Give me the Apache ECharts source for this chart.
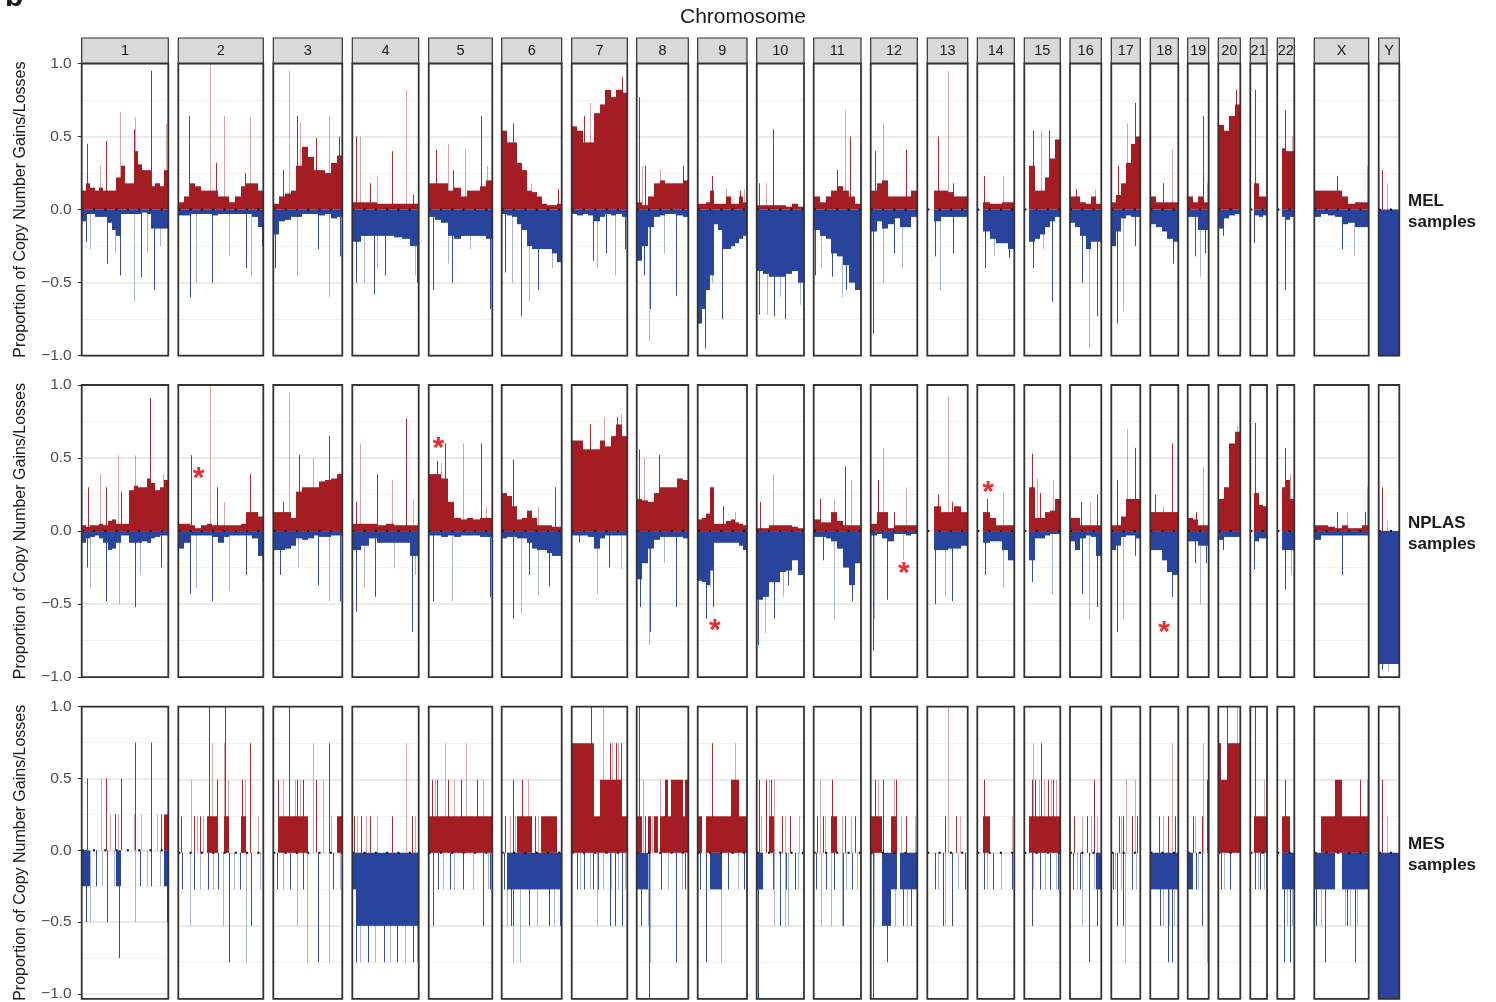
<!DOCTYPE html>
<html><head><meta charset="utf-8">
<script src="https://cdn.jsdelivr.net/npm/echarts@6/dist/echarts.min.js"></script>
<style>html,body{margin:0;padding:0;background:#fff}#c{width:1496px;height:1002px}</style>
</head><body><div id="c"></div>
<script>
// ---------------- DATA ----------------
const CHROMOSOMES = ['1','2','3','4','5','6','7','8','9','10','11','12','13','14','15','16','17','18','19','20','21','22','X','Y'];
const ROW_NAMES = ['MEL', 'NPLAS', 'MES'];
const TITLE = 'Chromosome';
const Y_TITLE = 'Proportion of Copy Number Gains/Losses';

// proportion of samples with gain, per equal-length bin along each chromosome
const MEL_GAIN = [
 [0.13,0.18,0.15,0.13,0.15,0.13,0.13,0.13,0.22,0.30,0.18,0.18,0.40,0.31,0.27,0.27,0.16,0.18,0.16,0.27],
 [0.05,0.09,0.18,0.16,0.13,0.13,0.13,0.09,0.09,0.05,0.09,0.16,0.18,0.18,0.13],
 [0.04,0.09,0.11,0.13,0.30,0.43,0.36,0.27,0.27,0.25,0.32,0.37],
 [0.05,0.05,0.05,0.04,0.04,0.04,0.04,0.04],
 [0.18,0.18,0.18,0.13,0.15,0.09,0.13,0.13,0.16,0.20],
 [0.54,0.46,0.46,0.32,0.27,0.13,0.12,0.09,0.04,0.03,0.03,0.04],
 [0.57,0.54,0.46,0.46,0.66,0.72,0.82,0.77,0.82,0.80],
 [0.05,0.03,0.09,0.18,0.20,0.18,0.18,0.18,0.20],
 [0.04,0.04,0.05,0.13,0.04,0.04,0.04,0.09,0.04,0.04,0.09,0.05],
 [0.03,0.03,0.03,0.03,0.03,0.02,0.04,0.02],
 [0.09,0.05,0.09,0.13,0.16,0.13,0.09,0.04],
 [0.13,0.18,0.20,0.09,0.09,0.09,0.09,0.13],
 [0,0.13,0.13,0.12,0.09,0.09],
 [0,0.05,0.04,0.04,0.05,0.05],
 [0,0.30,0.13,0.13,0.22,0.35,0.48],
 [0.09,0.09,0.05,0.04,0.09,0.04],
 [0.05,0.10,0.18,0.32,0.45,0.50],
 [0.09,0.05,0.05,0.05,0.05],
 [0.09,0.05,0.09,0.05],
 [0.58,0.54,0.64,0.72],
 [0,0.18,0.09,0.09],
 [0,0.42,0.40,0.40],
 [0.13,0.13,0.13,0.13,0.09,0.04,0.05,0.05],
 [0]
];
// proportion of samples with loss (drawn downward)
const MEL_LOSS = [
 [0.08,0.03,0.03,0.05,0.05,0.05,0.09,0.14,0.18,0.03,0.03,0.03,0.03,0.03,0.02,0.03,0.13,0.13,0.13,0.13],
 [0.04,0.04,0.03,0.03,0.03,0.03,0.04,0.03,0.03,0.03,0.03,0.03,0.03,0.05,0.12],
 [0.17,0.08,0.07,0.05,0.05,0.03,0.03,0.03,0.04,0.03,0.06,0.05],
 [0.22,0.18,0.18,0.18,0.18,0.19,0.20,0.25],
 [0.05,0.07,0.09,0.18,0.20,0.18,0.18,0.18,0.18,0.20],
 [0.03,0.04,0.05,0.10,0.14,0.25,0.27,0.27,0.27,0.27,0.30,0.36],
 [0.03,0.04,0.03,0.04,0.08,0.05,0.03,0.04,0.03,0.05],
 [0.35,0.25,0.12,0.05,0.04,0.03,0.03,0.04,0.05],
 [0.78,0.68,0.55,0.45,0.10,0.14,0.27,0.27,0.25,0.23,0.20,0.18],
 [0.42,0.44,0.46,0.46,0.46,0.44,0.42,0.50],
 [0.14,0.18,0.20,0.30,0.32,0.38,0.50,0.55],
 [0.15,0.08,0.13,0.10,0.06,0.12,0.12,0.05],
 [0,0.08,0.05,0.05,0.05,0.05],
 [0,0.15,0.20,0.23,0.23,0.27],
 [0,0.22,0.20,0.17,0.12,0.08,0.05],
 [0.09,0.12,0.18,0.27,0.22,0.22],
 [0.25,0.15,0.06,0.04,0.05,0.05],
 [0.10,0.12,0.15,0.20,0.22],
 [0.05,0.05,0.14,0.14],
 [0.13,0.06,0.04,0.03],
 [0,0.04,0.05,0.04],
 [0,0.05,0.07,0.05],
 [0.05,0.03,0.04,0.05,0.10,0.09,0.12,0.12],
 [1.0]
];
// narrow peaks: [relative position along chromosome, proportion]
const MEL_GAIN_PEAKS = [
 [[0.065,0.45],[0.21,0.30],[0.28,0.47],[0.44,0.67],[0.60,0.55],[0.62,0.63],[0.80,0.95],[0.97,0.59]],
 [[0.13,0.64],[0.37,1.0],[0.44,0.32],[0.54,0.64],[0.79,0.25],[0.84,0.63]],
 [[0.14,0.27],[0.23,0.95],[0.35,0.64],[0.39,0.60],[0.62,0.49],[0.80,0.64],[0.95,0.50]],
 [[0.05,0.50],[0.11,0.50],[0.26,0.18],[0.37,0.23],[0.60,0.40],[0.81,0.82],[0.92,0.10]],
 [[0.12,0.41],[0.31,0.45],[0.38,0.27],[0.57,0.41],[0.83,0.64],[0.91,0.30]],
 [[0.19,0.59],[0.48,0.18],[0.94,0.14]],
 [[0.23,0.64],[0.33,0.73],[0.90,0.91]],
 [[0.05,0.77],[0.10,0.30],[0.16,0.30],[0.45,0.27],[0.90,0.30]],
 [[0.30,0.23],[0.57,0.14],[0.86,0.13],[0.93,0.14]],
 [[0.04,0.18],[0.20,0.18],[0.35,0.55]],
 [[0.49,0.27],[0.67,0.68],[0.77,0.50]],
 [[0.09,0.40],[0.26,0.59],[0.75,0.41]],
 [[0.27,0.50],[0.50,0.95],[0.64,0.18]],
 [[0.18,0.23],[0.70,0.23]],
 [[0.23,0.54],[0.45,0.54],[0.69,0.54]],
 [[0.20,0.14],[0.80,0.14]],
 [[0.24,0.30],[0.53,0.59],[0.83,0.73]],
 [[0.46,0.18],[0.79,0.41]],
 [[0.75,0.64],[0.90,0.18]],
 [[0.80,0.82]],
 [[0.30,0.82]],
 [[0.45,0.68],[0.85,0.50]],
 [[0.41,0.23],[0.96,0.30]],
 [[0.15,0.27],[0.39,0.18]]
];
const MEL_LOSS_PEAKS = [
 [[0.05,0.22],[0.10,0.27],[0.29,0.37],[0.38,0.30],[0.44,0.45],[0.60,0.63],[0.68,0.46],[0.75,0.30],[0.83,0.55],[0.90,0.25]],
 [[0.14,0.60],[0.21,0.50],[0.40,0.50],[0.60,0.32],[0.80,0.40],[0.86,0.46],[0.98,0.25]],
 [[0.03,0.40],[0.35,0.46],[0.65,0.27],[0.81,0.60],[0.97,0.32]],
 [[0.05,0.50],[0.18,0.50],[0.33,0.58],[0.37,0.40],[0.49,0.45],[0.95,0.45],[0.98,0.50]],
 [[0.07,0.55],[0.31,0.37],[0.37,0.50],[0.65,0.27],[0.96,0.68]],
 [[0.06,0.43],[0.17,0.50],[0.32,0.73],[0.46,0.63],[0.61,0.55],[0.83,0.40]],
 [[0.39,0.35],[0.45,0.40],[0.62,0.30],[0.78,0.45],[0.96,0.27]],
 [[0.14,0.45],[0.23,0.90],[0.26,0.68],[0.52,0.30],[0.77,0.59]],
 [[0.15,0.95],[0.30,0.50],[0.49,0.75]],
 [[0.05,0.72],[0.21,0.72],[0.37,0.73],[0.49,0.60],[0.60,0.75],[0.92,0.65]],
 [[0.03,0.45],[0.15,0.40],[0.38,0.46],[0.59,0.60],[0.69,0.55]],
 [[0.06,0.85],[0.26,0.50],[0.49,0.30],[0.67,0.40]],
 [[0.19,0.32],[0.31,0.55],[0.64,0.30]],
 [[0.20,0.40],[0.45,0.32],[0.85,0.33]],
 [[0.23,0.40],[0.53,0.27],[0.76,0.63]],
 [[0.37,0.50],[0.61,0.95],[0.87,0.73]],
 [[0.20,0.78],[0.41,0.70],[0.82,0.25]],
 [[0.80,0.37]],
 [[0.35,0.32],[0.59,0.46],[0.82,0.30]],
 [[0.23,0.18]],
 [[0.25,0.23]],
 [[0.45,0.55]],
 [[0.50,0.27],[0.73,0.32]],
 []
];

const NPLAS_GAIN = [
 [0.04,0.03,0.04,0.04,0.05,0.04,0.07,0.08,0.05,0.05,0.05,0.28,0.31,0.30,0.30,0.36,0.33,0.28,0.30,0.35],
 [0.05,0.05,0.04,0.02,0.04,0.05,0.04,0.04,0.04,0.04,0.04,0.05,0.13,0.13,0.10],
 [0.13,0.13,0.13,0.09,0.27,0.30,0.30,0.30,0.34,0.35,0.36,0.39],
 [0.05,0.05,0.05,0.04,0.05,0.04,0.04,0.04],
 [0.39,0.39,0.36,0.20,0.09,0.08,0.09,0.08,0.09,0.09],
 [0.26,0.24,0.17,0.08,0.09,0.14,0.09,0.04,0.04,0.04,0.03,0.03],
 [0.62,0.62,0.56,0.56,0.56,0.62,0.58,0.65,0.73,0.65],
 [0.22,0.21,0.20,0.26,0.30,0.30,0.30,0.36,0.35],
 [0.08,0.09,0.12,0.30,0.05,0.05,0.05,0.07,0.08,0.06,0.05,0.04],
 [0.02,0.02,0.04,0.04,0.04,0.04,0.03,0.02],
 [0.08,0.06,0.06,0.13,0.07,0.04,0.04,0.04],
 [0.05,0.13,0.13,0.02,0.04,0.04,0.04,0.04],
 [0,0.17,0.13,0.13,0.17,0.13],
 [0,0.13,0.09,0.04,0.04,0.04],
 [0,0.30,0.09,0.09,0.13,0.14,0.22],
 [0.09,0.09,0.04,0.04,0.04,0.04],
 [0.04,0.04,0.10,0.22,0.22,0.22],
 [0.13,0.13,0.13,0.13,0.13],
 [0.09,0.08,0.04,0.04],
 [0.22,0.30,0.60,0.68],
 [0,0.26,0.18,0.17],
 [0,0.30,0.35,0.22],
 [0.04,0.04,0.03,0.02,0.04,0.02,0.02,0.04],
 [0]
];
const NPLAS_LOSS = [
 [0.08,0.05,0.04,0.03,0.05,0.08,0.13,0.12,0.08,0.03,0.03,0.08,0.08,0.08,0.07,0.08,0.05,0.04,0.03,0.03],
 [0.12,0.08,0.03,0.03,0.03,0.03,0.04,0.08,0.04,0.03,0.03,0.03,0.03,0.05,0.17],
 [0.13,0.13,0.12,0.10,0.05,0.06,0.05,0.03,0.04,0.04,0.03,0.03],
 [0.13,0.10,0.05,0.08,0.08,0.08,0.08,0.17],
 [0.03,0.03,0.04,0.03,0.04,0.03,0.03,0.03,0.04,0.04],
 [0.05,0.04,0.04,0.05,0.05,0.08,0.12,0.13,0.13,0.15,0.17,0.17],
 [0.03,0.03,0.03,0.04,0.12,0.05,0.03,0.03,0.03,0.03],
 [0.33,0.22,0.12,0.06,0.04,0.04,0.04,0.04,0.05],
 [0.34,0.35,0.37,0.27,0.08,0.08,0.08,0.08,0.08,0.08,0.10,0.13],
 [0.47,0.45,0.35,0.35,0.28,0.27,0.20,0.30],
 [0.04,0.04,0.05,0.07,0.12,0.25,0.37,0.22],
 [0.03,0.02,0.05,0.07,0.02,0.02,0.03,0.02],
 [0,0.13,0.13,0.12,0.12,0.10],
 [0,0.08,0.07,0.07,0.13,0.20],
 [0,0.20,0.05,0.05,0.03,0.02,0.02],
 [0.07,0.13,0.05,0.03,0.04,0.17],
 [0.13,0.10,0.04,0.03,0.03,0.05],
 [0.13,0.13,0.20,0.28,0.30],
 [0.07,0.07,0.10,0.10],
 [0.06,0.04,0.04,0.04],
 [0,0.07,0.05,0.05],
 [0,0.13,0.13,0.13],
 [0.06,0.03,0.03,0.03,0.03,0.03,0.03,0.03],
 [0.91]
];
const NPLAS_GAIN_PEAKS = [
 [[0.07,0.30],[0.21,0.39],[0.28,0.30],[0.42,0.52],[0.45,0.27],[0.62,0.52],[0.79,0.91],[0.94,0.39]],
 [[0.15,0.52],[0.37,1.0],[0.45,0.30],[0.54,0.20],[0.84,0.39]],
 [[0.14,0.20],[0.23,0.95],[0.37,0.52],[0.58,0.50],[0.81,0.65],[0.95,0.40]],
 [[0.05,0.20],[0.11,0.60],[0.37,0.39],[0.60,0.35],[0.81,0.77],[0.92,0.22]],
 [[0.13,0.48],[0.20,0.47],[0.26,0.60],[0.54,0.60],[0.83,0.60],[0.90,0.17]],
 [[0.19,0.49],[0.61,0.17],[0.89,0.30]],
 [[0.33,0.73],[0.58,0.78],[0.82,0.78],[0.89,0.80]],
 [[0.05,0.56],[0.15,0.50],[0.44,0.52]],
 [[0.51,0.17],[0.76,0.13]],
 [[0.07,0.20],[0.35,0.39]],
 [[0.14,0.22],[0.42,0.22],[0.67,0.44],[0.79,0.35]],
 [[0.16,0.35],[0.26,0.57],[0.49,0.13],[0.75,0.30]],
 [[0.27,0.25],[0.50,0.92],[0.60,0.20]],
 [[0.25,0.22],[0.70,0.26]],
 [[0.20,0.53],[0.34,0.36],[0.43,0.26],[0.80,0.35]],
 [[0.35,0.20],[0.64,0.20],[0.87,0.25]],
 [[0.20,0.35],[0.53,0.70],[0.83,0.57]],
 [[0.17,0.25],[0.46,0.17],[0.79,0.60]],
 [[0.40,0.13],[0.75,0.44]],
 [[0.30,0.30],[0.83,0.72]],
 [[0.30,0.74]],
 [[0.47,0.57],[0.75,0.39]],
 [[0.41,0.13],[0.60,0.13],[0.93,0.13],[0.96,0.30]],
 [[0.15,0.30],[0.39,0.07]]
];
const NPLAS_LOSS_PEAKS = [
 [[0.06,0.25],[0.10,0.39],[0.28,0.48],[0.43,0.50],[0.61,0.52],[0.67,0.30],[0.92,0.25]],
 [[0.14,0.43],[0.21,0.39],[0.40,0.48],[0.60,0.41],[0.80,0.30],[0.98,0.35]],
 [[0.09,0.30],[0.36,0.25],[0.65,0.37],[0.81,0.48],[0.97,0.48]],
 [[0.05,0.55],[0.18,0.39],[0.34,0.45],[0.63,0.25],[0.90,0.69],[0.95,0.30]],
 [[0.07,0.48],[0.37,0.48],[0.96,0.45]],
 [[0.18,0.60],[0.32,0.57],[0.46,0.30],[0.61,0.44],[0.78,0.38]],
 [[0.14,0.08],[0.45,0.43],[0.67,0.25],[0.89,0.26]],
 [[0.06,0.52],[0.23,0.78],[0.26,0.69],[0.52,0.22],[0.76,0.52]],
 [[0.17,0.60],[0.25,0.38],[0.32,0.52]],
 [[0.03,0.78],[0.18,0.70],[0.37,0.60],[0.56,0.45],[0.67,0.37]],
 [[0.20,0.20],[0.42,0.60],[0.80,0.48]],
 [[0.06,0.82],[0.07,0.60],[0.34,0.47],[0.70,0.20]],
 [[0.19,0.50],[0.44,0.45],[0.62,0.48]],
 [[0.20,0.30],[0.70,0.39]],
 [[0.22,0.35],[0.76,0.43]],
 [[0.37,0.43],[0.61,0.60],[0.87,0.52]],
 [[0.20,0.69],[0.41,0.60],[0.82,0.17]],
 [[0.79,0.45]],
 [[0.35,0.22],[0.59,0.50],[0.87,0.22]],
 [[0.23,0.13]],
 [[0.25,0.26]],
 [[0.45,0.40],[0.78,0.30]],
 [[0.50,0.30]],
 [[0.15,0.95],[0.44,0.96]]
];
// significance asterisks in NPLAS row: [chromosome index, relative position, value]
const NPLAS_STARS = [[1,0.24,0.41],[4,0.15,0.62],[8,0.35,-0.63],[11,0.71,-0.24],[13,0.29,0.32],[17,0.49,-0.64]];

const MES_GAIN = [
 [0,0,0,0,0,0,0,0,0,0,0,0,0,0,0,0,0,0,0,0.25],
 [0,0,0,0,0,0.25,0.25,0,0.25,0,0,0.25,0,0,0],
 [0,0.25,0.25,0.25,0.25,0.25,0,0,0,0,0,0.25],
 [0,0,0,0,0,0,0,0],
 [0.25,0.25,0.25,0.25,0.25,0.25,0.25,0.25,0.25,0.25],
 [0,0,0,0.25,0.25,0.25,0,0,0.25,0.25,0.25,0],
 [0.75,0.75,0.75,0.75,0.25,0.5,0.5,0.5,0.5,0.25],
 [0.25,0.25,0,0,0.25,0,0.25,0,0.25,0.25,0.5,0.25,0.5,0.5,0.5,0.5,0.25,0.5],
 [0.25,0,0.25,0.25,0.25,0.25,0.25,0.25,0.5,0.5,0.25,0.25],
 [0,0,0.25,0,0,0,0,0],
 [0,0,0,0.25,0,0,0,0],
 [0.25,0.25,0.25,0.25,0,0,0,0.25,0.25,0,0,0,0,0,0,0],
 [0,0,0,0,0,0],
 [0,0.25,0,0,0,0],
 [0,0.25,0.25,0.25,0.25,0.25,0.25],
 [0,0,0,0,0,0],
 [0,0,0,0,0,0],
 [0,0,0,0,0],
 [0,0,0,0],
 [0.75,0.5,0.5,0.75,0.75,0.75,0.75,0.75],
 [0,0.25,0.25,0.25],
 [0,0.25,0.25,0],
 [0,0.25,0.25,0.5,0.25,0.25,0.25,0.25],
 [0]
];
const MES_LOSS = [
 [0.25,0.25,0,0,0,0,0,0,0.25,0,0,0,0,0,0,0,0,0,0,0.25],
 [0,0,0,0,0,0,0,0,0,0,0,0,0,0,0],
 [0,0,0,0,0,0,0,0,0,0,0,0],
 [0.25,0.5,0.5,0.5,0.5,0.5,0.5,0.5,0.5,0.5,0.5,0.5,0.5,0.5,0.5,0.5],
 [0,0,0,0,0,0,0,0,0,0],
 [0,0.25,0.25,0.25,0.25,0.25,0.25,0.25,0.25,0.25,0.25,0.25],
 [0,0,0,0,0,0,0,0,0,0],
 [0.25,0.25,0.25,0.25,0,0,0,0,0,0,0,0,0,0,0,0,0,0],
 [0,0,0,0.25,0.25,0.25,0,0,0,0,0,0],
 [0.25,0,0,0,0,0,0,0],
 [0,0,0,0,0,0,0,0],
 [0,0,0,0,0.5,0.5,0.5,0.25,0.25,0,0.25,0.25,0.25,0.25,0.25,0.25],
 [0,0,0,0,0,0],
 [0,0,0,0,0,0],
 [0,0,0,0,0,0,0],
 [0,0,0,0,0,0.25],
 [0,0,0,0,0,0],
 [0.25,0.25,0.25,0.25,0.25],
 [0.25,0,0,0],
 [0,0,0,0],
 [0,0,0,0],
 [0,0.25,0.25,0.25],
 [0.25,0.25,0.25,0,0.25,0.25,0.25,0.25],
 [1.0]
];
const MES_GAIN_PEAKS = [
 [[0.065,0.5],[0.22,0.5],[0.28,0.5],[0.33,0.25],[0.38,0.25],[0.42,0.25],[0.45,0.5],[0.60,0.25],[0.62,0.75],[0.69,0.25],[0.80,0.75],[0.87,0.25],[0.92,0.25]],
 [[0.03,0.25],[0.15,0.5],[0.18,0.25],[0.22,0.25],[0.25,0.25],[0.29,0.25],[0.36,1.0],[0.40,0.75],[0.46,0.5],[0.54,0.75],[0.545,1.0],[0.58,0.5],[0.75,0.5],[0.78,0.5],[0.84,0.75],[0.94,0.25]],
 [[0.07,0.5],[0.14,0.5],[0.23,1.0],[0.32,0.5],[0.35,0.5],[0.39,0.5],[0.43,0.5],[0.58,0.75],[0.62,0.5],[0.72,0.5],[0.81,0.75],[0.84,0.25]],
 [[0.03,0.25],[0.07,0.25],[0.13,0.25],[0.20,0.25],[0.27,0.25],[0.37,0.25],[0.60,0.25],[0.81,0.75],[0.90,0.25],[0.95,0.25]],
 [[0.05,0.5],[0.10,0.5],[0.13,0.5],[0.25,0.75],[0.31,0.5],[0.40,0.5],[0.51,0.5],[0.58,0.75],[0.76,0.5],[0.86,0.5]],
 [[0.06,0.25],[0.14,0.25],[0.19,0.5],[0.22,0.25],[0.33,0.5],[0.43,0.5],[0.55,0.25],[0.60,0.25],[0.65,0.25]],
 [[0.34,1.0],[0.57,1.0],[0.68,0.75],[0.73,0.75],[0.79,0.75],[0.84,0.75],[0.89,0.75]],
 [[0.05,1.0],[0.12,0.5],[0.16,0.25],[0.30,0.25],[0.39,0.25],[0.45,0.5],[0.52,0.25]],
 [[0.30,0.75],[0.76,0.75]],
 [[0.04,0.5],[0.10,0.25],[0.20,0.5],[0.25,0.5],[0.31,0.5],[0.37,0.5],[0.54,0.25],[0.60,0.25],[0.70,0.25],[0.90,0.25]],
 [[0.06,0.25],[0.14,0.5],[0.19,0.25],[0.23,0.25],[0.38,0.5],[0.59,0.25],[0.67,0.25],[0.79,0.25],[0.87,0.25]],
 [[0.09,0.5],[0.15,0.5],[0.26,0.5],[0.49,0.5],[0.54,0.5],[0.64,0.25],[0.75,0.25],[0.94,0.25]],
 [[0.45,0.25],[0.50,1.0],[0.71,0.25],[0.81,0.25]],
 [[0.17,0.5],[0.94,0.25]],
 [[0.20,0.5],[0.23,0.75],[0.31,0.5],[0.42,0.5],[0.45,0.75],[0.56,0.5],[0.67,0.5],[0.73,0.5],[0.81,0.5],[0.88,0.5]],
 [[0.14,0.25],[0.38,0.25],[0.53,0.25],[0.66,0.25],[0.78,0.5],[0.85,0.25]],
 [[0.28,0.25],[0.32,0.25],[0.41,0.25],[0.51,0.5],[0.70,0.25],[0.83,0.5],[0.87,0.25]],
 [[0.32,0.25],[0.46,0.25],[0.64,0.25],[0.79,0.75],[0.88,0.25]],
 [[0.24,0.25],[0.37,0.25],[0.67,0.25],[0.75,0.75],[0.90,0.5]],
 [[0.40,1.0],[0.83,1.0]],
 [[0.30,1.0],[0.82,0.5]],
 [[0.47,0.5]],
 [[0.84,0.5],[0.96,0.5]],
 [[0.15,0.5],[0.39,0.25]]
];
const MES_LOSS_PEAKS = [
 [[0.05,0.5],[0.10,0.5],[0.17,0.25],[0.23,0.25],[0.29,0.5],[0.37,0.25],[0.43,0.75],[0.61,0.5],[0.67,0.25],[0.75,0.25],[0.80,0.25],[0.90,0.25],[0.98,0.5]],
 [[0.04,0.25],[0.14,0.5],[0.18,0.25],[0.25,0.25],[0.35,0.25],[0.41,0.25],[0.47,0.25],[0.53,0.5],[0.60,0.75],[0.65,0.25],[0.73,0.25],[0.80,0.75],[0.86,0.5],[0.96,0.25]],
 [[0.05,0.25],[0.14,0.25],[0.24,0.25],[0.35,0.5],[0.43,0.25],[0.49,0.75],[0.65,0.75],[0.81,0.75],[0.87,0.25],[0.97,0.25]],
 [[0.05,0.75],[0.12,0.75],[0.23,0.75],[0.34,0.75],[0.47,0.75],[0.57,0.75],[0.67,0.75],[0.79,0.75],[0.92,0.75],[0.97,0.75]],
 [[0.06,0.5],[0.07,0.25],[0.14,0.25],[0.23,0.25],[0.33,0.25],[0.39,0.25],[0.54,0.25],[0.70,0.25],[0.85,0.5],[0.93,0.25],[0.96,0.25]],
 [[0.03,0.25],[0.09,0.5],[0.15,0.5],[0.18,0.75],[0.19,0.5],[0.31,0.75],[0.46,0.5],[0.58,0.5],[0.78,0.5],[0.87,0.5],[0.97,0.5]],
 [[0.09,0.25],[0.15,0.25],[0.22,0.25],[0.33,0.25],[0.39,0.25],[0.45,0.5],[0.48,0.25],[0.57,0.25],[0.68,0.5],[0.70,0.25],[0.78,0.5],[0.84,0.25],[0.90,0.5],[0.96,0.25]],
 [[0.08,0.5],[0.21,0.5],[0.23,1.0],[0.26,0.75],[0.48,0.25],[0.61,0.25],[0.77,0.75],[0.87,0.25],[0.94,0.25]],
 [[0.05,0.25],[0.16,0.5],[0.17,0.75],[0.48,0.75],[0.62,0.25],[0.82,0.25],[0.94,0.25]],
 [[0.03,1.0],[0.10,0.25],[0.34,0.25],[0.37,0.5],[0.49,0.5],[0.60,0.5],[0.62,0.25],[0.67,0.5],[0.81,0.25],[0.88,0.25]],
 [[0.05,0.25],[0.15,0.5],[0.27,0.25],[0.36,0.5],[0.42,0.25],[0.59,0.5],[0.63,0.5],[0.68,0.25],[0.82,0.25],[0.91,0.25]],
 [[0.04,1.0],[0.07,0.5],[0.36,0.75],[0.52,0.5],[0.70,0.5],[0.77,0.5],[0.86,0.5]],
 [[0.19,0.25],[0.27,0.25],[0.40,0.5],[0.45,0.5],[0.60,0.5],[0.77,0.25],[0.93,0.25]],
 [[0.17,0.25],[0.26,0.25],[0.42,0.25],[0.63,0.25],[0.94,0.25]],
 [[0.20,0.5],[0.25,0.25],[0.44,0.25],[0.58,0.25],[0.72,0.25],[0.88,0.25],[0.93,0.25]],
 [[0.09,0.25],[0.21,0.25],[0.32,0.25],[0.37,0.5],[0.61,0.75],[0.76,0.25],[0.85,0.5]],
 [[0.07,0.25],[0.13,0.25],[0.20,0.5],[0.32,0.25],[0.41,0.5],[0.47,0.75],[0.70,0.25],[0.84,0.25]],
 [[0.35,0.5],[0.46,0.5],[0.62,0.75],[0.68,0.5],[0.76,0.75],[0.83,0.5]],
 [[0.40,0.25],[0.49,0.25],[0.68,0.5],[0.90,0.75]],
 [[0.11,0.25],[0.27,0.25],[0.53,0.25]],
 [[0.28,0.25],[0.44,0.25],[0.58,0.25],[0.82,0.25]],
 [[0.41,0.75],[0.55,0.5],[0.75,0.75],[0.84,0.5]],
 [[0.04,0.5],[0.12,0.5],[0.20,0.75],[0.57,0.5],[0.61,0.5],[0.66,0.5],[0.74,0.75],[0.78,0.5]],
 []
];

// ---------------- LAYOUT ----------------
const FONT = '"Liberation Sans", Arial, Helvetica, sans-serif';
const RED = '#A31D23', BLUE = '#28449C';
const COL_X = [[81.7,168.3],[178.3,263.3],[273.3,342.3],[352.3,418.7],[428.7,492.3],[501.7,561.7],[571.7,627.3],[636.7,688.3],[697.7,747],[756.7,804],[813.7,861],[870.7,917.3],[927.3,967.7],[977.3,1014.3],[1024.3,1060.3],[1070,1101.3],[1111.3,1140.3],[1150.3,1178.3],[1187.7,1208.7],[1218.3,1240.3],[1250.3,1267],[1277.3,1294.3],[1314.3,1368.7],[1378.7,1399.3]];
const ROW_Y = [[63.5,355.7],[385,677.2],[706.7,998.9]];
const ROWS = [
  {gain: MEL_GAIN, loss: MEL_LOSS, gp: MEL_GAIN_PEAKS, lp: MEL_LOSS_PEAKS},
  {gain: NPLAS_GAIN, loss: NPLAS_LOSS, gp: NPLAS_GAIN_PEAKS, lp: NPLAS_LOSS_PEAKS, stars: NPLAS_STARS},
  {gain: MES_GAIN, loss: MES_LOSS, gp: MES_GAIN_PEAKS, lp: MES_LOSS_PEAKS}
];

const chart = echarts.init(document.getElementById('c'), null, {renderer: 'canvas'});
const grid = [], xAxis = [], yAxis = [], series = [], graphic = [];

ROWS.forEach((row, r) => {
  const [yt, yb] = ROW_Y[r];
  CHROMOSOMES.forEach((chr, c) => {
    const gi = r * CHROMOSOMES.length + c;
    const [xl, xr] = COL_X[c];
    grid.push({left: xl, top: yt, width: xr - xl, height: yb - yt, show: false, containLabel: false});
    xAxis.push({gridIndex: gi, type: 'value', min: 0, max: 1, show: false});
    yAxis.push({
      gridIndex: gi, type: 'value', min: -1, max: 1, interval: 0.5,
      axisLine: {show: false},
      axisTick: {show: c === 0, length: 4, lineStyle: {color: '#333', width: 1}},
      axisLabel: {show: c === 0, margin: 10, fontSize: 15.5, color: '#4D4D4D', fontFamily: FONT,
        formatter: v => (v < 0 ? '\u2212' : '') + Math.abs(v).toFixed(1)},
      splitLine: {show: true, lineStyle: {color: '#EBEBEB', width: 2}},
      minorTick: {show: false, splitNumber: 2},
      minorSplitLine: {show: true, lineStyle: {color: '#F2F2F2', width: 1}}
    });

    // segment profile: [start, end, signed value]
    const prof = [];
    const g = row.gain[c], l = row.loss[c];
    g.forEach((v, i) => { if (v > 0) prof.push([i / g.length, (i + 1) / g.length, v]); });
    l.forEach((v, i) => { if (v > 0) prof.push([i / l.length, (i + 1) / l.length, -v]); });
    series.push({
      type: 'custom', xAxisIndex: gi, yAxisIndex: gi, silent: true, animation: false, z: 2,
      encode: {x: [0, 1], y: 2},
      data: prof,
      renderItem: (p, api) => {
        const a = api.coord([api.value(0), 0]);
        const b = api.coord([api.value(1), api.value(2)]);
        const x0 = Math.round(a[0]), x1 = Math.round(b[0]);
        return {type: 'rect', shape: {x: x0, y: Math.min(a[1], b[1]), width: Math.max(1, x1 - x0), height: Math.abs(b[1] - a[1])},
          style: {fill: api.value(2) > 0 ? RED : BLUE}};
      }
    });

    // narrow peaks
    const pk = [];
    row.gp[c].forEach((s, i) => pk.push([s[0], s[1], i % 2]));
    row.lp[c].forEach((s, i) => pk.push([s[0], -s[1], i % 2]));
    series.push({
      type: 'custom', xAxisIndex: gi, yAxisIndex: gi, silent: true, animation: false, z: 3,
      encode: {x: 0, y: 1},
      data: pk,
      renderItem: (p, api) => {
        const v = api.value(1);
        const a = api.coord([api.value(0), 0]);
        const b = api.coord([api.value(0), v]);
        const xx = Math.round(a[0]) + 0.5;
        return {type: 'line', shape: {x1: xx, y1: a[1], x2: xx, y2: b[1]},
          style: {stroke: v > 0 ? RED : BLUE, lineWidth: 1, opacity: api.value(2) ? 0.4 : 0.95}};
      }
    });

    // dotted zero line
    series.push({
      type: 'line', xAxisIndex: gi, yAxisIndex: gi, silent: true, animation: false, z: 6,
      symbol: 'none', data: [[0, 0], [1, 0]],
      lineStyle: {color: '#111', width: 2, type: [2, 9.3]}
    });

    // border
    graphic.push({type: 'rect', silent: true, z: 100,
      shape: {x: xl, y: yt, width: xr - xl, height: yb - yt},
      style: {fill: 'none', stroke: '#333333', lineWidth: 1.8}});

    // strip header (top row only)
    if (r === 0) {
      graphic.push({type: 'rect', silent: true, z: 99,
        shape: {x: xl, y: 38, width: xr - xl, height: yt - 38},
        style: {fill: '#D9D9D9', stroke: '#333333', lineWidth: 1.2}});
      graphic.push({type: 'text', silent: true, z: 101, x: (xl + xr) / 2, y: 51,
        style: {text: chr, fontSize: 14.5, fontFamily: FONT, fill: '#1A1A1A', align: 'center', verticalAlign: 'middle'}});
    }
  });

  // asterisks
  if (row.stars) {
    row.stars.forEach(s => {
      const gi = r * CHROMOSOMES.length + s[0];
      series.push({
        type: 'custom', xAxisIndex: gi, yAxisIndex: gi, silent: true, animation: false, z: 8,
        data: [[s[1], s[2]]],
        renderItem: (p, api) => {
          const pt = api.coord([api.value(0), api.value(1)]);
          return {type: 'text', x: pt[0], y: pt[1] + 8,
            style: {text: '*', fontSize: 30, fontWeight: 'bold', fontFamily: FONT, fill: '#EE2A2F', align: 'center', verticalAlign: 'middle'}};
        }
      });
    });
  }

  // y-axis title
  graphic.push({type: 'text', silent: true, x: 21, y: (yt + yb) / 2, rotation: Math.PI / 2,
    style: {text: Y_TITLE, fontSize: 16, fontFamily: FONT, fill: '#1A1A1A', align: 'center', verticalAlign: 'middle'}});
  // row label
  graphic.push({type: 'text', silent: true, x: 1408, y: (yt + yb) / 2 - 8,
    style: {text: ROW_NAMES[r], fontSize: 17, fontWeight: 'bold', fontFamily: FONT, fill: '#1A1A1A', align: 'left', verticalAlign: 'middle'}});
  graphic.push({type: 'text', silent: true, x: 1408, y: (yt + yb) / 2 + 13,
    style: {text: 'samples', fontSize: 17, fontWeight: 'bold', fontFamily: FONT, fill: '#1A1A1A', align: 'left', verticalAlign: 'middle'}});
});

graphic.push({type: 'text', silent: true, x: 743, y: 17,
  style: {text: TITLE, fontSize: 21, fontFamily: FONT, fill: '#1A1A1A', align: 'center', verticalAlign: 'middle'}});
graphic.push({type: 'text', silent: true, x: 5, y: 13,
  style: {text: 'b', fontSize: 30, fontWeight: 'bold', fontFamily: FONT, fill: '#1A1A1A', align: 'left', verticalAlign: 'bottom'}});

chart.setOption({
  animation: false,
  backgroundColor: '#ffffff',
  grid, xAxis, yAxis, series, graphic
});
</script>
</body></html>
